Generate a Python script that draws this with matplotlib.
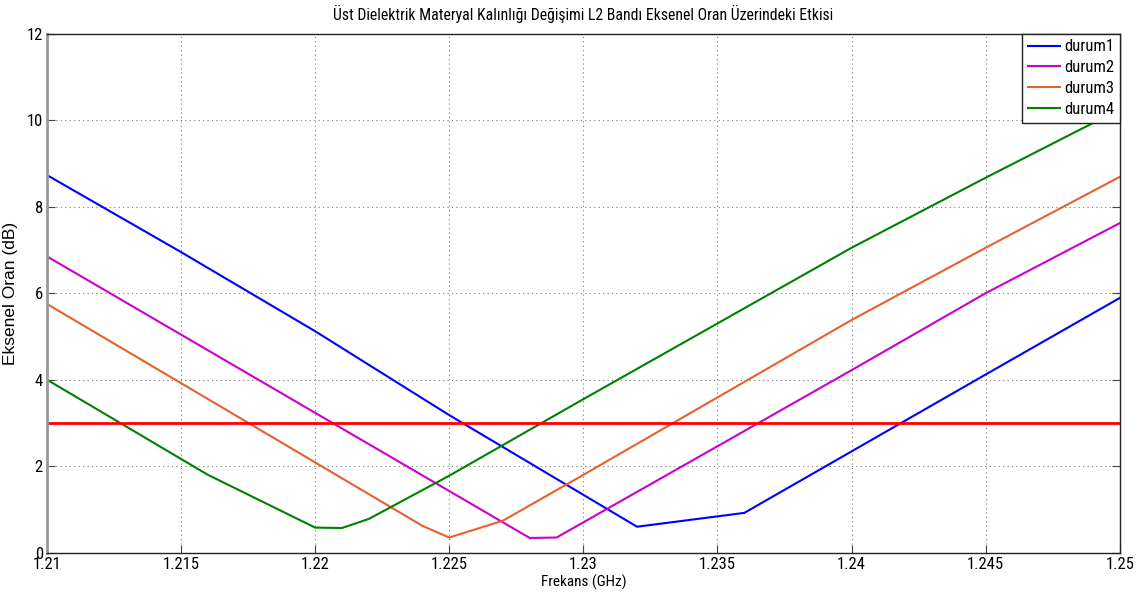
import matplotlib
matplotlib.use("Agg")
import matplotlib.pyplot as plt
from matplotlib import font_manager

# frequencies (GHz) and axial ratio (dB)
f_durum1 = [1.21, 1.215, 1.22, 1.225, 1.232, 1.236, 1.245, 1.25]
ar_durum1 = [8.73, 6.95, 5.12, 3.18, 0.60, 0.92, 4.12, 5.89]

f_durum2 = [1.21, 1.228, 1.229, 1.24, 1.245, 1.25]
ar_durum2 = [6.85, 0.34, 0.35, 4.22, 6.00, 7.62]

f_durum3 = [1.21, 1.215, 1.224, 1.225, 1.227, 1.23, 1.24, 1.245, 1.25]
ar_durum3 = [5.75, 3.92, 0.62, 0.35, 0.74, 1.80, 5.38, 7.05, 8.69]

f_durum4 = [1.21, 1.216, 1.22, 1.221, 1.222, 1.225, 1.23, 1.24, 1.245, 1.25]
ar_durum4 = [4.00, 1.80, 0.58, 0.57, 0.78, 1.78, 3.55, 7.05, 8.67, 10.25]

limit_db = 3
labels = ["durum1", "durum2", "durum3", "durum4"]
colors = ["#0000ff", "#cc00cc", "#e8602c", "#008000"]

x_ticks = [1.21, 1.215, 1.22, 1.225, 1.23, 1.235, 1.24, 1.245, 1.25]
x_ticklabels = ["1.21", "1.215", "1.22", "1.225", "1.23", "1.235", "1.24", "1.245", "1.25"]
y_ticks = [0, 2, 4, 6, 8, 10, 12]


def pick_font(names):
    for n in names:
        try:
            font_manager.findfont(n, fallback_to_default=False)
            return n
        except ValueError:
            pass
    return "DejaVu Sans"


narrow = pick_font(["Liberation Sans Narrow", "Roboto Condensed", "Liberation Sans"])
plt.rcParams['font.family'] = [narrow, 'DejaVu Sans']

fig = plt.figure(figsize=(11.45, 6.01), dpi=100)
ax = fig.add_axes([0.041, 0.0804, 0.937, 0.8636])

series = [(f_durum1, ar_durum1), (f_durum2, ar_durum2),
          (f_durum3, ar_durum3), (f_durum4, ar_durum4)]
for (f, ar), lab, c in zip(series, labels, colors):
    ax.plot(f, ar, color=c, lw=1.5, label=lab)

ax.axhline(limit_db, color="#ff0000", lw=2)

ax.set_xlim(1.21, 1.25)
ax.set_ylim(0, 12)
ax.set_xticks(x_ticks)
ax.set_xticklabels(x_ticklabels)
ax.set_yticks(y_ticks)
ax.tick_params(direction="in", length=6, labelsize=12, top=False, right=True,
               color="#444444", pad=3)
ax.grid(True, linestyle=(0, (1, 3)), color="#777777", lw=0.8)

for side in ["top", "right", "bottom"]:
    ax.spines[side].set_color("#222222")
    ax.spines[side].set_linewidth(1.0)
ax.spines["left"].set_color("#999999")
ax.spines["left"].set_linewidth(2.0)

ax.set_title("Üst Dielektrik Materyal Kalınlığı Değişimi L2 Bandı Eksenel Oran Üzerindeki Etkisi",
             fontsize=11.3, pad=10)
ax.set_xlabel("Frekans (GHz)", fontsize=11, labelpad=2)
ax.set_ylabel("Eksenel Oran (dB)", fontsize=12.5, family=['Liberation Sans', 'DejaVu Sans'])
ax.yaxis.set_label_coords(-0.027, 0.5)

leg = ax.legend(loc="upper right", fontsize=12, fancybox=False, framealpha=1,
                edgecolor="#222222", borderaxespad=0, handlelength=1.9,
                handletextpad=0.25, labelspacing=0.35, borderpad=0.35)
leg.get_frame().set_linewidth(1.0)

fig.savefig("out.png", dpi=100)
